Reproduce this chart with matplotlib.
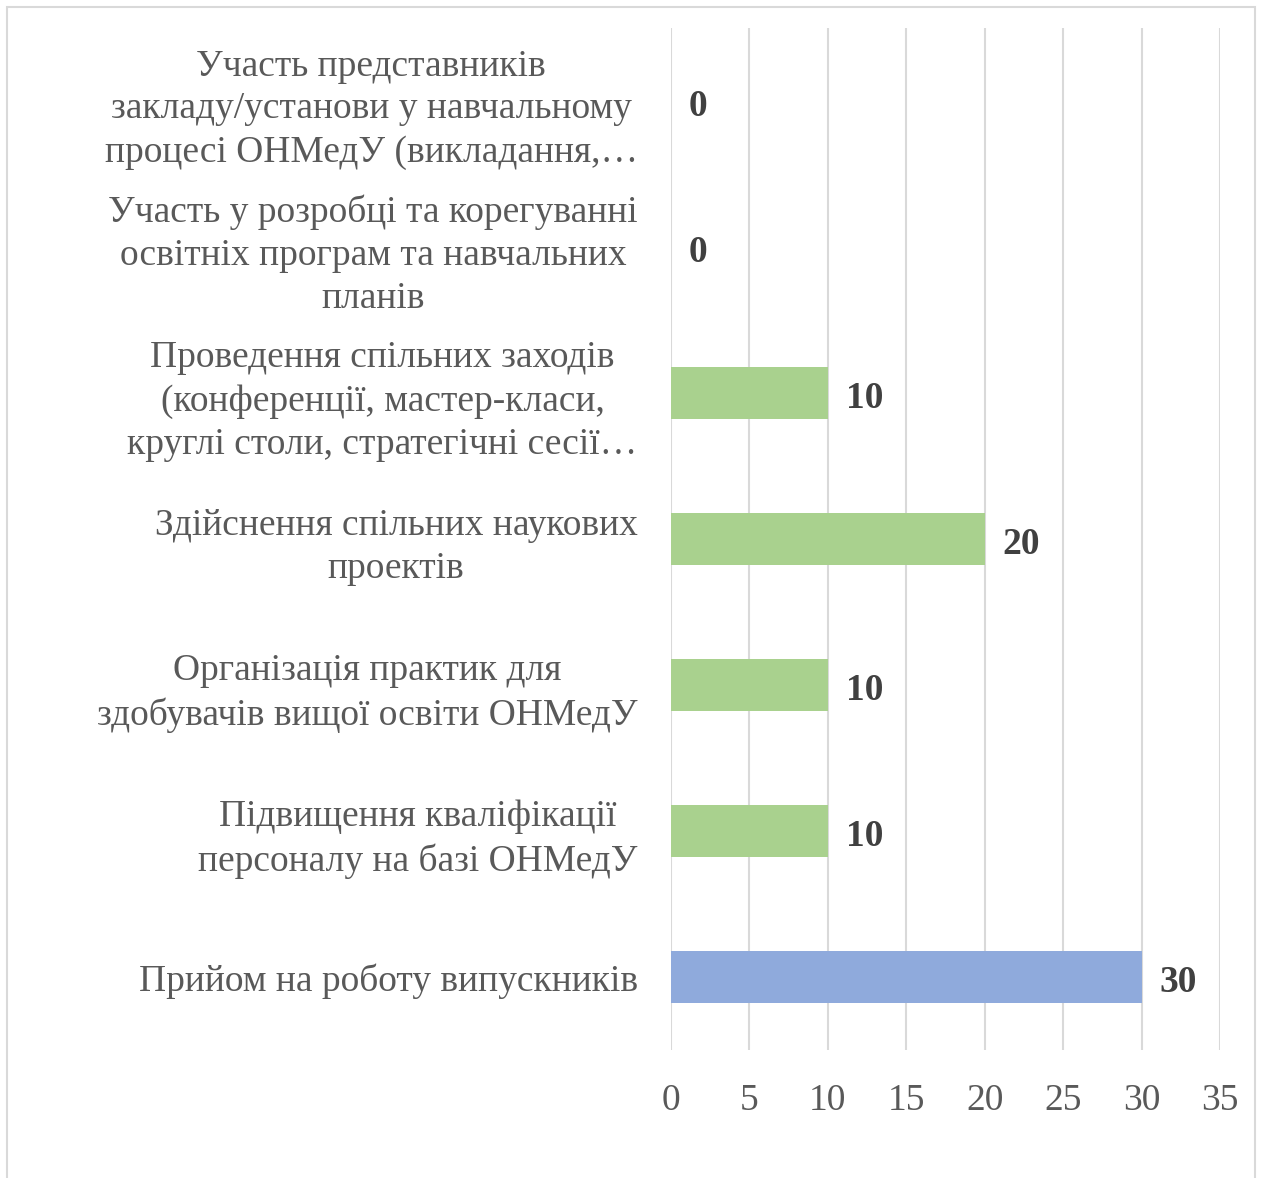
import matplotlib
matplotlib.use("Agg")
import matplotlib.pyplot as plt
from matplotlib.patches import Rectangle

categories = [
    "Прийом на роботу випускників",
    "Підвищення кваліфікації\nперсоналу на базі ОНМедУ",
    "Організація практик для\nздобувачів вищої освіти ОНМедУ",
    "Здійснення спільних наукових\nпроектів",
    "Проведення спільних заходів\n(конференції, мастер-класи,\nкруглі столи, стратегічні сесії…",
    "Участь у розробці та корегуванні\nосвітніх програм та навчальних\nпланів",
    "Участь представників\nзакладу/установи у навчальному\nпроцесі ОНМедУ (викладання,…",
]
values = [30, 10, 10, 20, 10, 0, 0]
bar_colors = ["#8FAADC", "#A9D18E", "#A9D18E", "#A9D18E", "#A9D18E", "#A9D18E", "#A9D18E"]
xticks = [0, 5, 10, 15, 20, 25, 30, 35]

plt.rcParams['font.family'] = ['Liberation Serif', 'DejaVu Serif']

W, H = 1261, 1178
fig = plt.figure(figsize=(W / 100, H / 100), dpi=100)
fig.patches.append(Rectangle((7 / W, -0.01), (1255 - 7) / W, 1 - 7 / H + 0.01,
                             transform=fig.transFigure, fill=False,
                             edgecolor="#D9D9D9", linewidth=1.5))

ax = fig.add_axes([671 / W, 1 - 1050 / H, 549 / W, 1022 / H])
y = list(range(len(categories)))
ax.barh(y, values, height=0.355, color=bar_colors, zorder=3)
ax.set_ylim(-0.5, len(categories) - 0.5)
ax.set_xlim(0, 35)
ax.set_xticks(xticks)
ax.set_xticklabels([str(t) for t in xticks])
ax.set_yticks(y)
ax.set_yticklabels(categories, multialignment='center', linespacing=1.32)
ax.tick_params(axis='y', length=0, pad=24, labelsize=27, labelcolor="#595959")
ax.tick_params(axis='x', length=0, pad=24, labelsize=27, labelcolor="#595959")
for s in ax.spines.values():
    s.set_visible(False)
ax.grid(axis='x', color="#D9D9D9", linewidth=1.5, zorder=0)
ax.set_axisbelow(True)

for yi, v in zip(y, values):
    ax.annotate(str(v), xy=(v, yi), xytext=(13, -4), textcoords='offset points',
                ha='left', va='center', fontsize=27, fontweight='bold',
                color="#404040")

fig.savefig("out.png", dpi=100)
